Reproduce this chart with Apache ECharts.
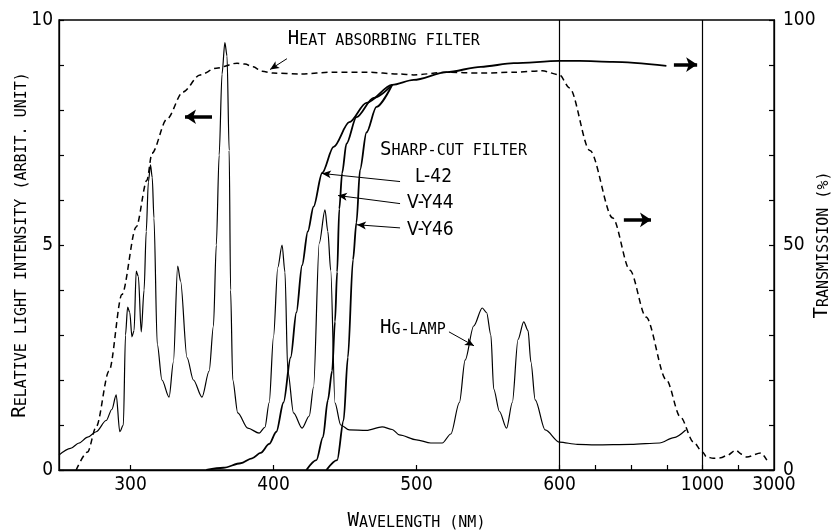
<!DOCTYPE html>
<html><head><meta charset="utf-8">
<script src="https://cdn.jsdelivr.net/npm/echarts@6/dist/echarts.min.js"></script>
<style>html,body{margin:0;padding:0;background:#fff}#c{width:834px;height:530px}</style>
</head><body><div id="c"></div>
<script>
// ---- Data (wavelength in nm) ----
const lampWl = [250,258,264,270,276,283,287,290,292.5,295,296.5,298,299.5,301,302.5,304,305.5,307.5,309.5,311,312.5,314,315.2,316.4,318.7,322,327,330,333,335,339.5,344,350,355,358,360,362,364,366,367.5,369,370,371.5,375,382,390,394,397,400,403,406,408,410,414,420,425,428,432,436,438,440,443,447,453,465,476,483,488,500,510,518,524,530,534,540,546,549,552,554,558,563,567,571,575,578,580,583,590,600,650,700,800,880,920,953];
const lampVal = [0.33,0.48,0.6,0.73,0.85,1.1,1.35,1.67,0.85,1.0,3.0,3.62,3.5,2.96,3.1,4.42,4.3,3.07,4.0,5.3,6.4,6.78,6.5,5.6,2.8,2.0,1.62,2.4,4.53,4.2,2.5,2.0,1.62,2.2,3.2,5.0,7.0,8.8,9.5,9.2,7.1,4.0,2.0,1.27,0.93,0.82,0.95,1.5,2.96,4.5,5.0,4.4,2.2,1.27,0.93,1.2,1.84,5.04,5.78,5.3,4.44,1.49,1.0,0.89,0.88,0.96,0.9,0.78,0.67,0.6,0.6,0.8,1.5,2.44,3.2,3.6,3.5,3.0,1.8,1.3,0.93,1.5,2.9,3.29,3.1,2.4,1.56,0.89,0.62,0.57,0.56,0.57,0.6,0.72,0.89];

const heatWl = [262,270,276,285,294,304,311.5,315,325.5,336.7,348.6,360,374.5,380,385.7,392,399.7,418.5,442,465,488,498,521,545,568,588,600,628,685,749,797,842,899,938,975,1000,1113,1300,1507,1700,1930,2100,2240,2630,2800];
const heatVal = [0,4,9.6,22,39,54,64.4,70.4,78,84,87.8,89.3,90.4,90.2,89.6,88.6,88.2,88,88.4,88.4,88,87.8,88.4,88.2,88.4,88.7,87.8,84.9,71,56,44.4,34,20,11.8,6.2,4,2.9,2.6,2.7,3.3,4.4,3.5,2.9,3.8,2.2];

const l42Wl = [353,365,377,385,391,397,402,407,412,416,420,424,428,434,442,453,465,483];
const l42Val = [0,0.5,1.5,2.6,3.8,5.8,8.5,15,25,35,45.5,53,58.5,66,71.8,77.3,81.6,85.6];
const vy44Wl = [423,430,434.6,438,441,443,444.5,446,448,451,458,470,483];
const vy44Val = [0,2.2,7.3,15.5,22,33,44,58,66,72.5,78.4,82.7,85.6];
const vy46Wl = [437,444.5,449,452,455.6,458,460.5,465,472,483];
const vy46Val = [0,2.2,11,25,46.7,55,66.7,75,80.7,85.6];
const tailWl = [498,521,545,568,600,656,749,899];
const tailVal = [86.7,88.4,89.6,90.4,90.9,90.9,90.7,89.8];

const xLabelWl = [300,400,500,600,1000,3000];
const xLabelText = ['300','400','500','600','1000','3000'];
const xTickWl = [300,400,500,600,700,800,900,1000,2000];
const yLeftLabels = [0,5,10];
const yRightLabels = [0,50,100];

// annotations: [wavelength, left-axis value]
const thinArrows = [
  [[409.4,9.14],[397.6,8.9]],
  [[488.5,6.41],[433.9,6.59]],
  [[488.5,5.92],[445.1,6.10]],
  [[488.5,5.38],[458.4,5.45]],
  [[522.7,3.07],[540.2,2.76]]
];
const thickArrows = [
  [[357,7.85],[338.1,7.85]],
  [[920,9.01],[985,9.01]],
  [[780,5.56],[856,5.56]]
];
const noteTexts = [
  {wl:410, v:9.57, text:'HEAT ABSORBING FILTER', caps:true},
  {wl:474.5, v:7.12, text:'SHARP-CUT FILTER', caps:true},
  {wl:498.9, v:6.50, text:'L-42', caps:false},
  {wl:493.4, v:5.94, text:'V-Y44', caps:false},
  {wl:493.4, v:5.34, text:'V-Y46', caps:false},
  {wl:474.5, v:3.16, text:'HG-LAMP', caps:true}
];

// piecewise wavelength scale of the original figure
function toU(l){ if(l<=600) return l; if(l<=1000) return 600+(l-600)/4; return 700+(l-1000)/40; }
function pairs(wl, val){ return wl.map((w,i)=>[toU(w), val[i]]); }

const MONO = "'DejaVu Sans Mono', monospace";
const NUM = "'Liberation Sans Narrow', 'DejaVu Sans Condensed', sans-serif";
const richCaps = {
  b:{fontFamily:MONO, fontSize:19, color:'#000', verticalAlign:'bottom'},
  s:{fontFamily:MONO, fontSize:15, color:'#000', verticalAlign:'bottom'}
};
function caps(t){ return '{b|'+t[0]+'}{s|'+t.slice(1)+'}'; }

const axLine = {show:true, lineStyle:{color:'#000', width:1.3}};
const tick = {show:true, inside:true, length:5, lineStyle:{color:'#000', width:1.2}};
const numLabel = {fontFamily:NUM, fontSize:19, color:'#000'};

const labelMap = {};
xLabelWl.forEach((w,i)=>{ labelMap[toU(w).toFixed(3)] = xLabelText[i]; });

const markLines = [
  {xAxis: toU(600), lineStyle:{color:'#000', width:1.2, type:'solid'}},
  {xAxis: toU(1000), lineStyle:{color:'#000', width:1.2, type:'solid'}}
];
thinArrows.forEach(a=>{
  markLines.push([
    {coord:[toU(a[0][0]), a[0][1]], symbol:'none', lineStyle:{color:'#000', width:1, type:'solid'}},
    {coord:[toU(a[1][0]), a[1][1]], symbol:'arrow', symbolSize:[6,9]}
  ]);
});
thickArrows.forEach(a=>{
  markLines.push([
    {coord:[toU(a[0][0]), a[0][1]], symbol:'none', lineStyle:{color:'#000', width:3.5, type:'solid'}},
    {coord:[toU(a[1][0]), a[1][1]], symbol:'arrow', symbolSize:[11,11]}
  ]);
});

const chart = echarts.init(document.getElementById('c'));
const option = {
  animation:false,
  backgroundColor:'#fff',
  grid:{left:59, right:60, top:20, bottom:60, containLabel:false, outerBoundsMode:'none',
        show:true, borderColor:'#000', borderWidth:1.3, backgroundColor:'transparent'},
  xAxis:{
    type:'value', min:250, max:750,
    axisLine:axLine,
    axisTick:Object.assign({}, tick, {customValues: xTickWl.map(toU)}),
    axisLabel:Object.assign({}, numLabel, {margin:6, customValues: xLabelWl.map(toU), showMaxLabel:true,
      formatter:v=> labelMap[Number(v).toFixed(3)] || ''}),
    splitLine:{show:false},
    name: caps('WAVELENGTH (NM)'), nameLocation:'middle', nameGap:42, nameMoveOverlap:false,
    nameTextStyle:{rich:richCaps}
  },
  yAxis:[
    {type:'value', min:0, max:10, interval:1, position:'left',
     axisLine:axLine, axisTick:tick,
     axisLabel:Object.assign({}, numLabel, {margin:6, customValues:yLeftLabels}),
     splitLine:{show:false},
     name: caps('RELATIVE LIGHT INTENSITY (ARBIT. UNIT)'), nameLocation:'middle', nameGap:29, nameMoveOverlap:false,
     nameTextStyle:{rich:richCaps}},
    {type:'value', min:0, max:100, interval:10, position:'right',
     axisLine:axLine, axisTick:tick,
     axisLabel:Object.assign({}, numLabel, {margin:9, customValues:yRightLabels}),
     splitLine:{show:false},
     name: caps('TRANSMISSION (%)'), nameLocation:'middle', nameGap:39, nameMoveOverlap:false,
     nameTextStyle:{rich:richCaps}}
  ],
  series:[
    {name:'Hg-lamp', type:'line', yAxisIndex:0, data:pairs(lampWl, lampVal), showSymbol:false,
     smooth:0.3, smoothMonotone:'x', lineStyle:{color:'#000', width:1.2},
     markLine:{silent:true, symbol:['none','none'], label:{show:false}, emphasis:{disabled:true}, data:markLines}},
    {name:'Heat absorbing filter', type:'line', yAxisIndex:1, data:pairs(heatWl, heatVal), showSymbol:false,
     smooth:0.3, smoothMonotone:'x', lineStyle:{color:'#000', width:1.5, type:[6,4]}},
    {name:'L-42', type:'line', yAxisIndex:1, data:pairs(l42Wl.concat(tailWl), l42Val.concat(tailVal)), showSymbol:false,
     smooth:0.3, smoothMonotone:'x', lineStyle:{color:'#000', width:1.8}},
    {name:'V-Y44', type:'line', yAxisIndex:1, data:pairs(vy44Wl, vy44Val), showSymbol:false,
     smooth:0.3, smoothMonotone:'x', lineStyle:{color:'#000', width:1.8}},
    {name:'V-Y46', type:'line', yAxisIndex:1, data:pairs(vy46Wl, vy46Val), showSymbol:false,
     smooth:0.3, smoothMonotone:'x', lineStyle:{color:'#000', width:1.8}}
  ]
};
chart.setOption(option);

const graphics = noteTexts.map(t=>{
  const p = chart.convertToPixel({xAxisIndex:0, yAxisIndex:0}, [toU(t.wl), t.v]);
  return {type:'text', x:p[0], y:p[1], silent:true,
    style: t.caps ? {text:caps(t.text), rich:richCaps, align:'left', verticalAlign:'middle', fill:'#000'}
                  : {text:t.text, font:"19px " + NUM, align:'left', verticalAlign:'middle', fill:'#000'}};
});
chart.setOption({graphic:graphics});
</script>
</body></html>
